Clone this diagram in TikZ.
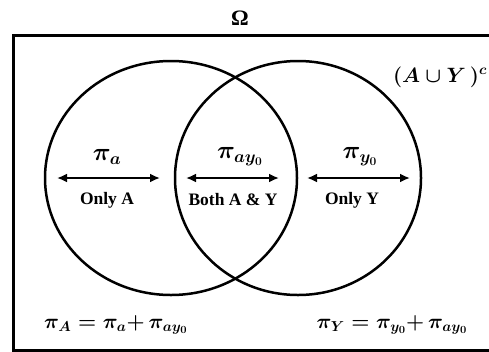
\documentclass[tikz,border=0pt]{standalone}
\usepackage{amsmath}
\usepackage[no-math]{fontspec}
\setmainfont{Liberation Serif}
\usetikzlibrary{shapes.geometric,arrows.meta}
\begin{document}
\begin{tikzpicture}[x=1pt,y=-1pt,
  venn/.style={draw, ellipse, line width=2.5pt, inner sep=0pt},
  dbl/.style={{Latex[length=10pt,width=9pt]}-{Latex[length=10pt,width=9pt]}, line width=2.2pt},
  lbl/.style={font=\fontsize{17.5}{20}\selectfont\bfseries, inner sep=0pt},
  mth/.style={font=\fontsize{21}{24}\selectfont\boldmath, inner sep=0pt},
  mtheq/.style={font=\fontsize{22}{25}\selectfont\boldmath, inner sep=0pt},
  mthbig/.style={font=\fontsize{23}{26}\selectfont\boldmath, inner sep=0pt}]
\useasboundingbox (0,0) rectangle (489,351);
\clip (0,0) rectangle (489,351);
\node[draw, rectangle, line width=2.8pt, anchor=north west, minimum width=495, minimum height=315, inner sep=0pt] (box) at (12,34) {};
\node[venn, minimum width=252, minimum height=234] (A) at (171,178) {};
\node[venn, minimum width=246, minimum height=234] (Y) at (298,178) {};
\node[lbl, font=\fontsize{22}{26}\selectfont\bfseries] (omega) at (240,18) {Ω};
\node[mth] (comp) at (440,77) {$(A\cup Y\,)^c$};
% arrows
\coordinate (a1) at (57,178); \coordinate (a2) at (160,178);
\coordinate (b1) at (186,178); \coordinate (b2) at (279,178);
\coordinate (c1) at (307,178); \coordinate (c2) at (410,178);
\draw[dbl] (a1) -- (a2);
\draw[dbl] (b1) -- (b2);
\draw[dbl] (c1) -- (c2);
\node[mthbig] (pa) at (107,157) {$\pi_a$};
\node[mthbig] (pay) at (240,157) {$\pi_{ay_0}$};
\node[mthbig] (py) at (360,157) {$\pi_{y_0}$};
\node[lbl] (onlyA) at (107,200) {Only A};
\node[lbl] (both) at (233,200) {Both A \& Y};
\node[lbl] (onlyY) at (352,200) {Only Y};
\node[mtheq] (eqA) at (116,325) {$\pi_A=\pi_a{+}\,\pi_{ay_0}$};
\node[mtheq] (eqY) at (392,325) {$\pi_Y=\pi_{y_0}{+}\,\pi_{ay_0}$};
\end{tikzpicture}
\end{document}
